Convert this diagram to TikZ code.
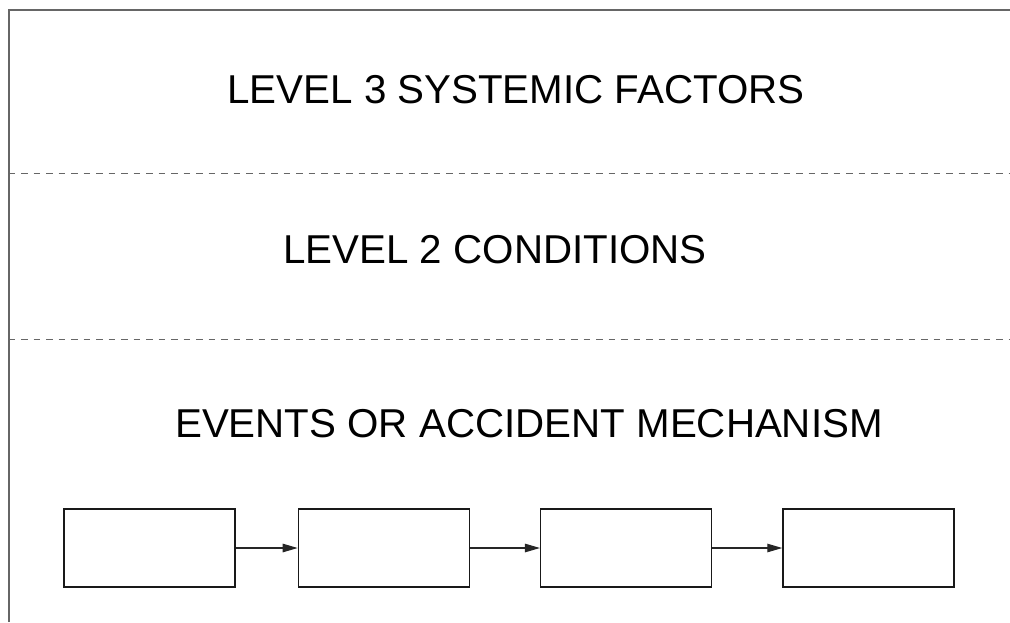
\documentclass[tikz,border=0pt]{standalone}
\usepackage{fontspec}
\setmainfont{Liberation Sans}
\usepackage{tikz}
\usetikzlibrary{arrows.meta,positioning}
\definecolor{rule}{HTML}{666666}
\tikzset{
  band/.style={font=\fontsize{40.3}{48}\selectfont, anchor=base, inner sep=0pt},
  evbox/.style={draw=black!90, line width=1.3pt, minimum width=171pt, minimum height=78pt, inner sep=0pt},
  frame/.style={draw=rule, line width=2pt},
  divider/.style={draw=rule, line width=1.2pt, dash pattern=on 6.5pt off 6pt},
  flow/.style={-{Triangle[length=15pt, width=8.5pt]}, draw=black!85, line width=1.2pt},
}

\begin{document}
\begin{tikzpicture}[x=1pt, y=-1pt, node distance=70pt]
\useasboundingbox (0,0) rectangle (1010,622);
% frame and level dividers
\draw[frame] (8.5,622) -- (8.5,9.5) -- (1010,9.5);
\draw[divider] (8.5,173.5) -- (1010,173.5);
\draw[divider] (8.5,339.5) -- (1010,339.5);
% level titles
\node[band] (lvlthree) at (516,103) {LEVEL 3 SYSTEMIC FACTORS};
\node[band] (lvltwo) at (495,263) {LEVEL 2 CONDITIONS};
\node[band] (events) at (529,437) {EVENTS OR ACCIDENT MECHANISM};
% event chain
\node[evbox] (ev1) at (149.5,548) {};
\node[evbox, right=62pt of ev1] (ev2) {};
\node[evbox, right=of ev2] (ev3) {};
\node[evbox, right=of ev3] (ev4) {};
\draw[flow] (ev1) -- (ev2);
\draw[flow] (ev2) -- (ev3);
\draw[flow] (ev3) -- (ev4);
\end{tikzpicture}
\end{document}
